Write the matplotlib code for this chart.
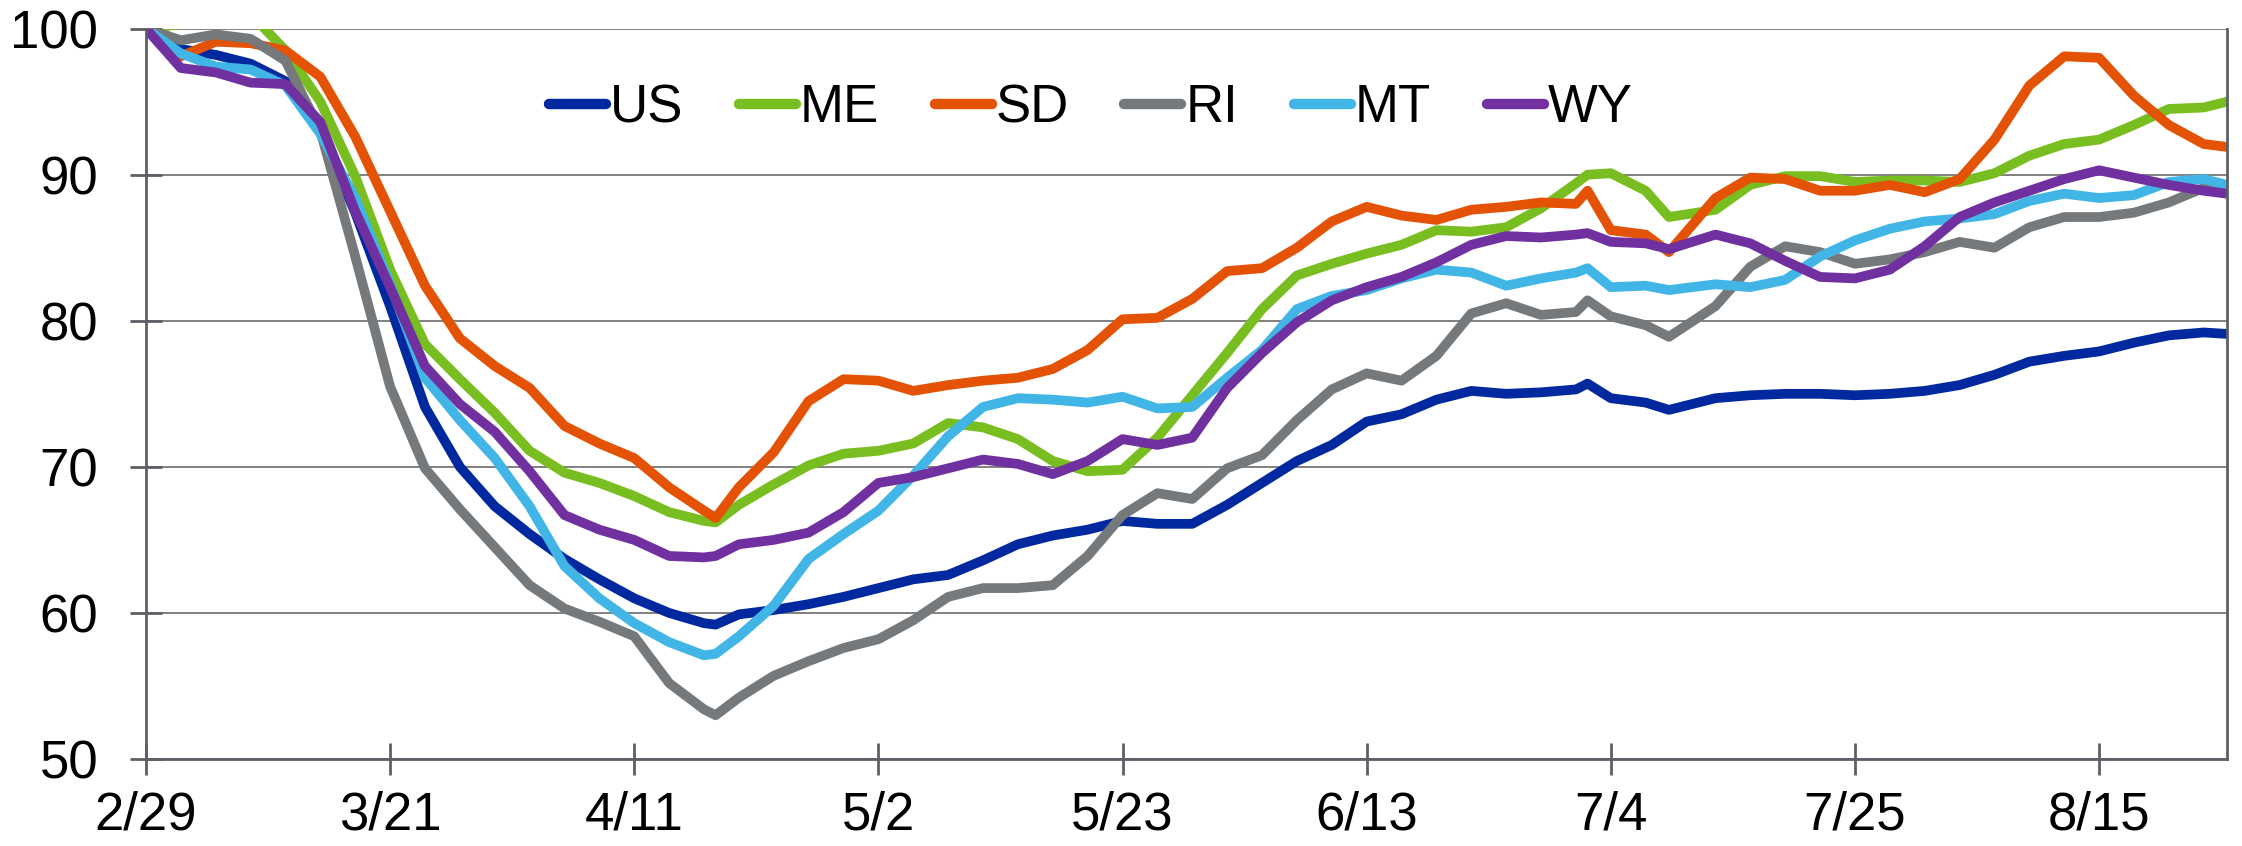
import matplotlib
matplotlib.use('Agg')
import matplotlib.pyplot as plt

plt.rcParams['font.family'] = ['Liberation Sans', 'DejaVu Sans']

# days since 2/29
days = [0, 3, 6, 9, 12, 15, 18, 21, 24, 27, 30, 33, 36, 39, 42, 45, 48, 49, 51, 54,
        57, 60, 63, 66, 69, 72, 75, 78, 81, 84, 87, 90, 93, 96, 99, 102, 105, 108,
        111, 114, 117, 120, 123, 124, 126, 129, 131, 135, 138, 141, 144, 147, 150,
        153, 156, 159, 162, 165, 168, 171, 174, 177, 179]

US = [100, 98.6, 98.2, 97.6, 96.4, 93.0, 87.4, 81.0, 74.1, 70.0, 67.3, 65.4, 63.7, 62.3,
      61.0, 60.0, 59.3, 59.2, 59.9, 60.2, 60.6, 61.1, 61.7, 62.3, 62.6, 63.6, 64.7, 65.3,
      65.7, 66.3, 66.1, 66.1, 67.4, 68.9, 70.4, 71.5, 73.1, 73.6, 74.6, 75.2, 75.0, 75.1,
      75.3, 75.7, 74.7, 74.4, 73.9, 74.7, 74.9, 75.0, 75.0, 74.9, 75.0, 75.2, 75.6, 76.3,
      77.2, 77.6, 77.9, 78.5, 79.0, 79.2, 79.1]
ME = [100, 100.3, 101.0, 101.0, 98.5, 95.0, 89.9, 83.5, 78.4, 76.0, 73.7, 71.1, 69.6, 68.9,
      68.0, 66.9, 66.3, 66.2, 67.4, 68.8, 70.1, 70.9, 71.1, 71.6, 73.0, 72.7, 71.9, 70.4,
      69.7, 69.8, 72.0, 74.9, 77.8, 80.8, 83.1, 83.9, 84.6, 85.2, 86.2, 86.1, 86.4, 87.7,
      89.4, 90.0, 90.1, 88.9, 87.1, 87.6, 89.3, 89.9, 89.9, 89.5, 89.6, 89.6, 89.5, 90.1,
      91.3, 92.1, 92.4, 93.4, 94.5, 94.6, 95.0]
SD = [100, 98.1, 99.1, 99.0, 98.5, 96.7, 92.6, 87.5, 82.4, 78.8, 76.9, 75.4, 72.8, 71.6,
      70.6, 68.6, 67.0, 66.5, 68.6, 71.0, 74.5, 76.0, 75.9, 75.2, 75.6, 75.9, 76.1, 76.7,
      78.0, 80.1, 80.2, 81.5, 83.4, 83.6, 85.0, 86.8, 87.8, 87.2, 86.9, 87.6, 87.8, 88.1,
      88.0, 88.9, 86.2, 85.9, 84.7, 88.4, 89.8, 89.7, 88.9, 88.9, 89.3, 88.8, 89.7, 92.4,
      96.1, 98.1, 98.0, 95.4, 93.4, 92.1, 91.9]
RI = [100, 99.2, 99.6, 99.3, 97.8, 93.0, 84.4, 75.5, 69.9, 67.1, 64.5, 61.9, 60.3, 59.4,
      58.4, 55.2, 53.4, 53.0, 54.2, 55.7, 56.7, 57.6, 58.2, 59.5, 61.1, 61.7, 61.7, 61.9,
      63.9, 66.7, 68.2, 67.8, 69.9, 70.8, 73.2, 75.3, 76.4, 75.9, 77.6, 80.5, 81.2, 80.4,
      80.6, 81.4, 80.3, 79.7, 78.9, 81.0, 83.7, 85.1, 84.7, 83.9, 84.2, 84.7, 85.4, 85.0,
      86.4, 87.1, 87.1, 87.4, 88.1, 89.1, 89.0]
MT = [100, 98.3, 97.4, 97.2, 96.1, 92.8, 88.4, 82.5, 76.1, 73.2, 70.6, 67.3, 63.2, 61.0,
      59.3, 58.0, 57.1, 57.2, 58.4, 60.5, 63.7, 65.4, 67.0, 69.4, 72.1, 74.1, 74.7, 74.6,
      74.4, 74.8, 74.0, 74.1, 76.1, 78.0, 80.8, 81.7, 82.1, 82.9, 83.5, 83.3, 82.4, 82.9,
      83.3, 83.6, 82.3, 82.4, 82.1, 82.5, 82.3, 82.8, 84.4, 85.5, 86.3, 86.8, 87.0, 87.3,
      88.2, 88.7, 88.4, 88.6, 89.5, 89.7, 89.3]
WY = [100, 97.3, 97.0, 96.3, 96.2, 93.6, 87.5, 82.3, 76.9, 74.3, 72.4, 69.7, 66.7, 65.7,
      65.0, 63.9, 63.8, 63.9, 64.7, 65.0, 65.5, 66.9, 68.9, 69.3, 69.9, 70.5, 70.2, 69.5,
      70.4, 71.9, 71.5, 72.0, 75.4, 77.8, 79.9, 81.4, 82.3, 83.0, 84.0, 85.2, 85.8, 85.7,
      85.9, 86.0, 85.4, 85.3, 84.9, 85.9, 85.3, 84.1, 83.0, 82.9, 83.5, 85.1, 87.1, 88.1,
      88.9, 89.7, 90.3, 89.8, 89.3, 88.9, 88.7]

names = ['US', 'ME', 'SD', 'RI', 'MT', 'WY']
series = [US, ME, SD, RI, MT, WY]
colors = ['#0029A0', '#78BE20', '#E35205', '#76797C', '#41B6E6', '#7030A0']

tick_days = [0, 21, 42, 63, 84, 105, 126, 147, 168]
tick_labels = ['2/29', '3/21', '4/11', '5/2', '5/23', '6/13', '7/4', '7/25', '8/15']
y_ticks = [50, 60, 70, 80, 90, 100]

fig = plt.figure(figsize=(22.42, 8.46), dpi=100)
ax = fig.add_axes([0.0651, 0.1028, 0.9282, 0.8634])

for name, vals, c in zip(names, series, colors):
    ax.plot(days, vals, color=c, lw=7, label=name,
            solid_joinstyle='round', solid_capstyle='round')

ax.set_xlim(0, 179)
ax.set_ylim(50, 100)
ax.set_xticks(tick_days)
ax.set_xticklabels(tick_labels)
ax.set_yticks(y_ticks)

ax.yaxis.grid(True, color='#808080', lw=1.4)
ax.set_axisbelow(True)

spine_c = '#5c6066'
for s in ['left', 'bottom', 'right']:
    ax.spines[s].set_color(spine_c)
    ax.spines[s].set_linewidth(2.0)
ax.spines['top'].set_visible(False)

ax.tick_params(axis='x', direction='inout', length=23, width=2.0, color=spine_c,
               labelsize=38, pad=11)
ax.tick_params(axis='y', direction='inout', length=23, width=2.0, color=spine_c,
               labelsize=38, pad=23)

leg = ax.legend(loc='center', bbox_to_anchor=(0.454, 0.891), ncol=6, frameon=False,
                fontsize=38, handlelength=1.08, handletextpad=0.08, columnspacing=1.05,
                borderaxespad=0, borderpad=0)
for h in leg.get_lines():
    h.set_solid_capstyle('round')
    h.set_linewidth(7.5)

fig.savefig('out.png', dpi=100)
